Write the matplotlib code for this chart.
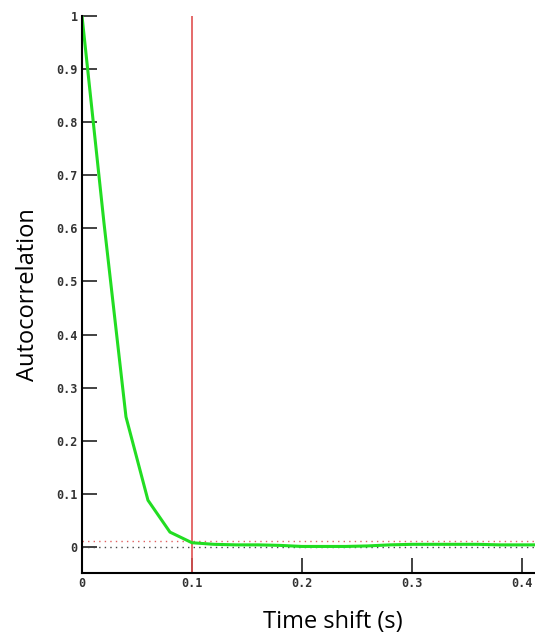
import numpy as np
from matplotlib import pyplot as plt

# autocorrelation vs time shift
lags = [0.0, 0.02, 0.04, 0.06, 0.08, 0.10, 0.12, 0.14, 0.16, 0.18, 0.20,
        0.22, 0.24, 0.26, 0.28, 0.30, 0.32, 0.34, 0.36, 0.38, 0.40, 0.42]
acorr = [1.0, 0.61, 0.245, 0.088, 0.028, 0.008, 0.005, 0.004, 0.004, 0.003, 0.001,
         0.001, 0.001, 0.002, 0.004, 0.005, 0.005, 0.005, 0.005, 0.004, 0.004, 0.004]
x_ticks = [0, 0.1, 0.2, 0.3, 0.4]
x_tick_labels = ['0', '0.1', '0.2', '0.3', '0.4']
y_ticks = [0, 0.1, 0.2, 0.3, 0.4, 0.5, 0.6, 0.7, 0.8, 0.9, 1]
y_tick_labels = ['0', '0.1', '0.2', '0.3', '0.4', '0.5', '0.6', '0.7', '0.8', '0.9', '1']
cutoff_lag = 0.1
threshold = 0.012

fig = plt.figure(figsize=(5.35, 6.33), dpi=100)
ax = fig.add_axes([82 / 535, 1 - 573 / 633, 1 - 82 / 535, (573 - 16) / 633])

ax.axhline(0, color='#444444', linestyle=(0, (1, 3)), linewidth=1)
ax.axhline(threshold, color='#e06060', linestyle=(0, (1, 3)), linewidth=1)
ax.axvline(cutoff_lag, color='#e05050', linewidth=1.2)
ax.plot(lags, acorr, color='#22dd22', linewidth=2.2)

ax.set_xlim(0, 0.412)
ax.set_ylim(-0.049, 1.0)
ax.spines['top'].set_visible(False)
ax.spines['right'].set_visible(False)
ax.spines['left'].set_linewidth(1.5)
ax.spines['bottom'].set_linewidth(1.5)

tick_font = {'family': 'DejaVu Sans Mono', 'size': 8.5, 'weight': 'bold'}
ax.set_xticks(x_ticks)
ax.set_xticklabels(x_tick_labels, fontdict=tick_font, color='#333333')
ax.set_yticks(y_ticks)
ax.set_yticklabels(y_tick_labels, fontdict=tick_font, color='#333333')
ax.tick_params(direction='in', length=11, width=1.3, colors='#333333', pad=3)

ax.set_xlabel('Time shift (s)', fontsize=17, family='Open Sans', labelpad=14)
ax.set_ylabel('Autocorrelation', fontsize=17, family='Open Sans', labelpad=12)
# the original x label sits a bit right of the axes centre
ax.xaxis.label.set_x(0.554)

fig.savefig('out.png', dpi=100)
